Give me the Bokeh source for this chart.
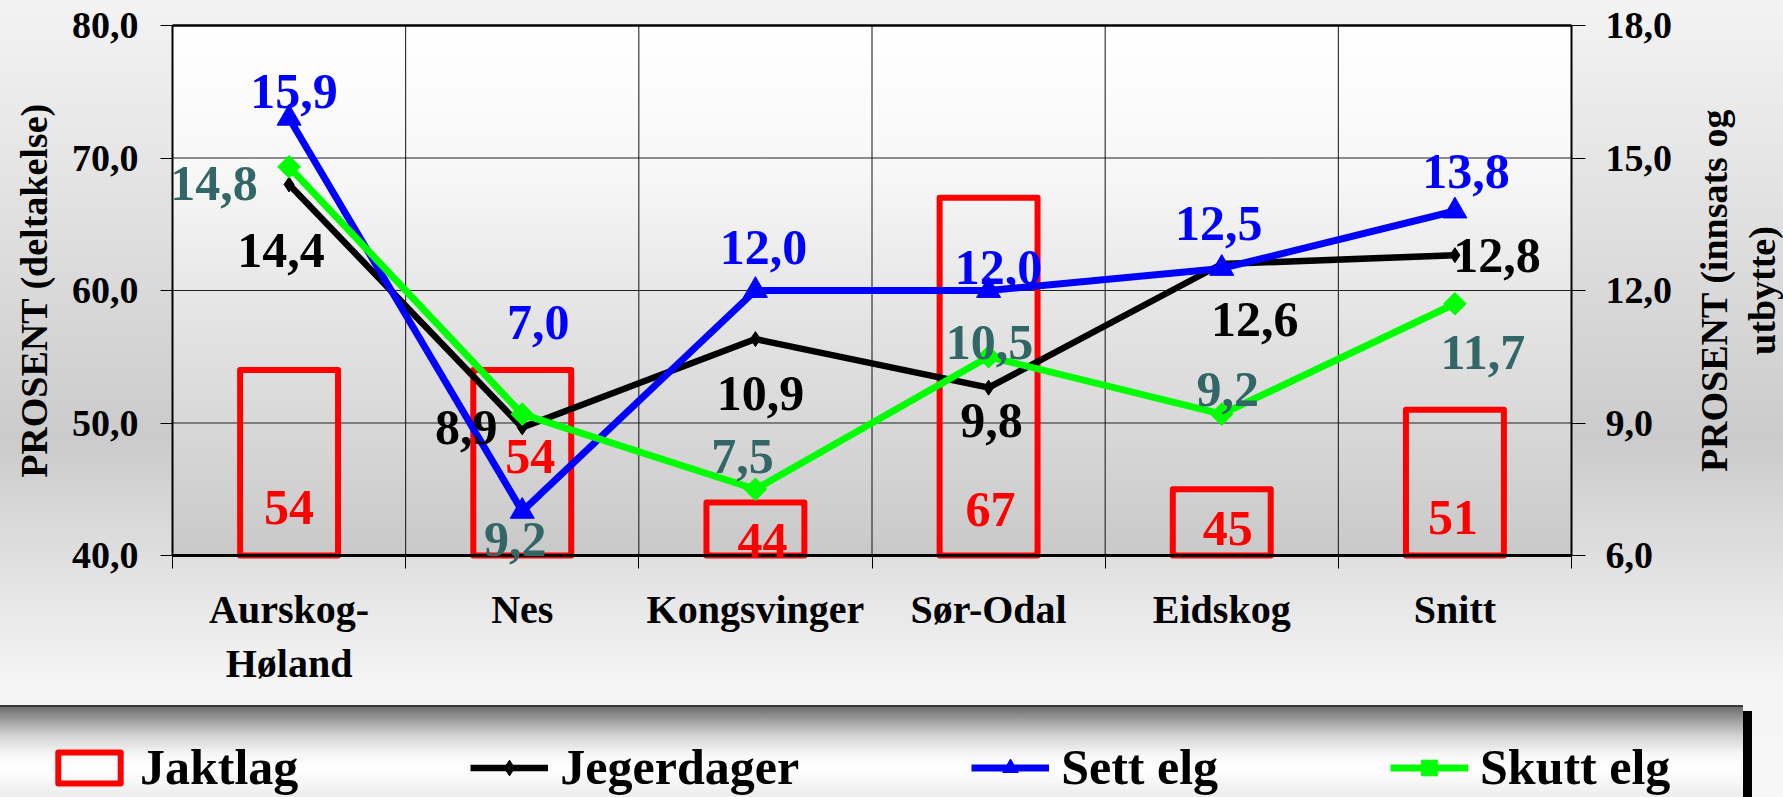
import math
from bokeh.plotting import figure
from bokeh.models import (Range1d, LinearAxis, FixedTicker, ColumnDataSource, LabelSet,
                          Legend, LegendItem, Label)
from bokeh.embed import file_html
from bokeh.resources import INLINE

# ---------------- data ----------------
categories = ["Aurskog-\nHøland", "Nes", "Kongsvinger", "Sør-Odal", "Eidskog", "Snitt"]
jaktlag = [54, 54, 44, 67, 45, 51]
jegerdager = [14.4, 8.9, 10.9, 9.8, 12.6, 12.8]
sett_elg = [15.9, 7.0, 12.0, 12.0, 12.5, 13.8]
skutt_elg = [14.8, 9.2, 7.5, 10.5, 9.2, 11.7]
left_ticks = [40, 50, 60, 70, 80]
right_ticks = [6, 9, 12, 15, 18]
left_title = "PROSENT (deltakelse)"
right_title = ["PROSENT (innsats og", "utbytte)"]

# label placement offsets in pixels (dx, dy up)
off_jaktlag = [(0, 48), (8, 99), (7, 15), (2, 46), (6, 27), (-2, 38)]
off_jeger = [(-8, -66), (-56, 0), (5, -54), (3, -33), (33, -55), (42, 0)]
off_sett = [(5, 27), (16, 189), (8, 43), (10, 23), (-3, 45), (11, 40)]
off_skutt = [(-75, -17), (-7, -125), (-13, 33), (1, 14), (6, 25), (28, -49)]

FONT = "Liberation Serif"
n = len(categories)
xs = [i + 0.5 for i in range(n)]


def fmt(v):
    return f"{v:.1f}".replace(".", ",")


# ---------------- layout geometry (pixels) ----------------
W, H = 1783, 797
FL, FT, FW, FH = 172, 25, 1399, 530          # plot area
LEG_TOP, LEG_RIGHT = 705, 1743

px_x = FW / n                                   # pixels per category
y0, y1 = left_ticks[0], left_ticks[-1]
r0, r1 = right_ticks[0], right_ticks[-1]
px_l = FH / (y1 - y0)
px_r = FH / (r1 - r0)
x_range = Range1d(-FL / px_x, n + (W - FL - FW) / px_x)
y_range = Range1d(y0 - (H - FT - FH) / px_l, y1 + FT / px_l)
r_range = Range1d(r0 - (H - FT - FH) / px_r, r1 + FT / px_r)

outer = ("linear-gradient(to bottom, #f3f3f3 0%, #e2e2e2 25%, #cbcbcb 55%, "
         "#e2e2e2 72%, #f5f5f5 86%, #f7f7f7 100%)")
legend_grad = ("linear-gradient(to bottom, #6a6a6a 0%, #9a9a9a 14%, #d2d2d2 32%, "
               "#f6f6f6 52%, #ffffff 68%, #ececec 100%)")
bg = ("linear-gradient(to bottom, #ffffff 0%, #f7f7f7 28%, #e4e4e4 55%, #c9c9c9 100%) "
      f"{FL}px {FT}px / {FW}px {FH}px no-repeat, "
      f"linear-gradient(#3a3a3a, #3a3a3a) 0px {LEG_TOP}px / {LEG_RIGHT}px 2px no-repeat, "
      f"{legend_grad} 0px {LEG_TOP + 1}px / {LEG_RIGHT}px {H - LEG_TOP}px no-repeat, "
      f"linear-gradient(#000000, #000000) {LEG_RIGHT}px {LEG_TOP + 6}px / 9px {H}px no-repeat, "
      + outer)

p = figure(width=W, height=H, output_backend="svg", toolbar_location=None,
           title_location=None, x_range=x_range, y_range=y_range,
           min_border=0, min_border_left=0, min_border_right=0,
           min_border_top=0, min_border_bottom=0,
           background_fill_alpha=0, border_fill_alpha=0, outline_line_color=None,
           styles={"background": bg})
p.extra_y_ranges = {"right": r_range}
p.xgrid.visible = False
p.ygrid.visible = False

# ---------------- axes (drawn at fixed positions) ----------------
xa = p.xaxis[0]
xa.fixed_location = y0
xa.bounds = (0, n)
xa.ticker = FixedTicker(ticks=xs, minor_ticks=list(range(0, n + 1)))
xa.major_label_overrides = {x: c for x, c in zip(xs, categories)}
xa.major_tick_line_color = None
xa.major_tick_out = 13
xa.major_tick_in = 0
xa.minor_tick_line_color = "black"
xa.minor_tick_line_width = 1
xa.minor_tick_out = 13
xa.minor_tick_in = 0
xa.axis_line_color = "black"
xa.axis_line_width = 3
xa.major_label_standoff = 18
xa.major_label_text_font = FONT
xa.major_label_text_font_style = "bold"
xa.major_label_text_font_size = "40px"
xa.major_label_text_color = "black"

ya = p.yaxis[0]
ya.fixed_location = 0
ya.bounds = (y0, y1)
ya.ticker = FixedTicker(ticks=left_ticks)
ya.major_label_overrides = {t: fmt(t) for t in left_ticks}
ya.minor_tick_line_color = None
ya.major_tick_out = 12
ya.major_tick_in = 0
ya.major_tick_line_color = "black"
ya.axis_line_color = "black"
ya.axis_line_width = 2
ya.major_label_standoff = 22
ya.major_label_text_font = FONT
ya.major_label_text_font_style = "bold"
ya.major_label_text_font_size = "38px"
ya.major_label_text_color = "black"
ya.axis_label = left_title
ya.axis_label_text_font = FONT
ya.axis_label_text_font_style = "bold"
ya.axis_label_text_font_size = "38px"
ya.axis_label_text_color = "black"
ya.axis_label_standoff = 14

ra = LinearAxis(y_range_name="right", fixed_location=n, bounds=(r0, r1),
                ticker=FixedTicker(ticks=right_ticks))
ra.major_label_overrides = {t: fmt(t) for t in right_ticks}
ra.minor_tick_line_color = None
ra.major_tick_out = 14
ra.major_tick_in = 0
ra.major_tick_line_color = "black"
ra.axis_line_color = "black"
ra.axis_line_width = 2
ra.major_label_standoff = 20
ra.major_label_text_font = FONT
ra.major_label_text_font_style = "bold"
ra.major_label_text_font_size = "38px"
ra.major_label_text_color = "black"
p.add_layout(ra, "right")

# right axis title (two lines, reading upwards)
title_x = [n + (1713 - FL - FW) / px_x, n + (1761 - FL - FW) / px_x]
for txt, tx in zip(right_title, title_x):
    p.add_layout(Label(x=tx, y=(r0 + r1) / 2, y_range_name="right", text=txt,
                       angle=math.pi / 2, text_align="center", text_baseline="middle",
                       text_font=FONT, text_font_style="bold", text_font_size="38px",
                       text_color="black"))

# ---------------- grid lines and plot-area border ----------------
inner = left_ticks[1:-1]
p.segment(x0=[0] * len(inner), x1=[n] * len(inner), y0=inner, y1=inner,
          line_color="#222222", line_width=1)
vb = list(range(1, n))
p.segment(x0=vb, x1=vb, y0=[y0] * len(vb), y1=[y1] * len(vb),
          line_color="#111111", line_width=1)
p.segment(x0=[0], x1=[n], y0=[y1], y1=[y1], line_color="black", line_width=2.5)

# ---------------- series ----------------
src = ColumnDataSource(dict(
    x=xs, jaktlag=jaktlag, jeger=jegerdager, sett=sett_elg, skutt=skutt_elg,
    jaktlag_t=[str(v) for v in jaktlag],
    jeger_t=[fmt(v) for v in jegerdager],
    sett_t=[fmt(v) for v in sett_elg],
    skutt_t=[fmt(v) for v in skutt_elg],
    base=[y0] * n,
    jaktlag_dx=[o[0] for o in off_jaktlag], jaktlag_dy=[o[1] for o in off_jaktlag],
    jeger_dx=[o[0] for o in off_jeger], jeger_dy=[o[1] for o in off_jeger],
    sett_dx=[o[0] for o in off_sett], sett_dy=[o[1] for o in off_sett],
    skutt_dx=[o[0] for o in off_skutt], skutt_dy=[o[1] for o in off_skutt],
))

bars = p.vbar(x="x", top="jaktlag", bottom="base", width=0.42, source=src,
              fill_alpha=0, line_color="#ff0000", line_width=6, line_join="round")

l_jeg = p.line("x", "jeger", source=src, y_range_name="right", line_color="black",
               line_width=6.5, line_join="round")
m_jeg = p.scatter("x", "jeger", source=src, y_range_name="right", marker="diamond",
                  size=15, fill_color="black", line_color="black")
l_sett = p.line("x", "sett", source=src, y_range_name="right", line_color="#0000ff",
                line_width=7, line_join="round")
m_sett = p.scatter("x", "sett", source=src, y_range_name="right", marker="triangle",
                   size=24, fill_color="#0000ff", line_color="#0000ff")
l_skutt = p.line("x", "skutt", source=src, y_range_name="right", line_color="#00ff00",
                 line_width=7, line_join="round")
m_skutt = p.scatter("x", "skutt", source=src, y_range_name="right", marker="square",
                    angle=math.pi / 4, size=16, fill_color="#00ff00", line_color="#00ff00")


def labels(ycol, tcol, pre, color, yname="default"):
    return LabelSet(x="x", y=ycol, text=tcol, source=src, y_range_name=yname,
                    x_offset=pre + "_dx", y_offset=pre + "_dy",
                    text_align="center", text_baseline="middle",
                    text_font=FONT, text_font_style="bold", text_font_size="50px",
                    text_color=color)


p.add_layout(labels("base", "jaktlag_t", "jaktlag", "#ff0000"))
p.add_layout(labels("jeger", "jeger_t", "jeger", "black", "right"))
p.add_layout(labels("sett", "sett_t", "sett", "#0000ff", "right"))
p.add_layout(labels("skutt", "skutt_t", "skutt", "#336666", "right"))

# ---------------- legend ----------------
legend = Legend(items=[
    LegendItem(label="Jaktlag", renderers=[bars]),
    LegendItem(label="Jegerdager", renderers=[l_jeg, m_jeg]),
    LegendItem(label="Sett elg", renderers=[l_sett, m_sett]),
    LegendItem(label="Skutt elg", renderers=[l_skutt, m_skutt]),
], orientation="horizontal", location=(50, 1),
    spacing=172, glyph_width=78, glyph_height=39, label_standoff=12,
    padding=0, margin=0, background_fill_alpha=0, border_line_alpha=0,
    label_text_font=FONT, label_text_font_style="bold", label_text_font_size="50px",
    label_text_color="black")
p.add_layout(legend, "center")

open("out.html", "w").write(file_html(p, INLINE))
